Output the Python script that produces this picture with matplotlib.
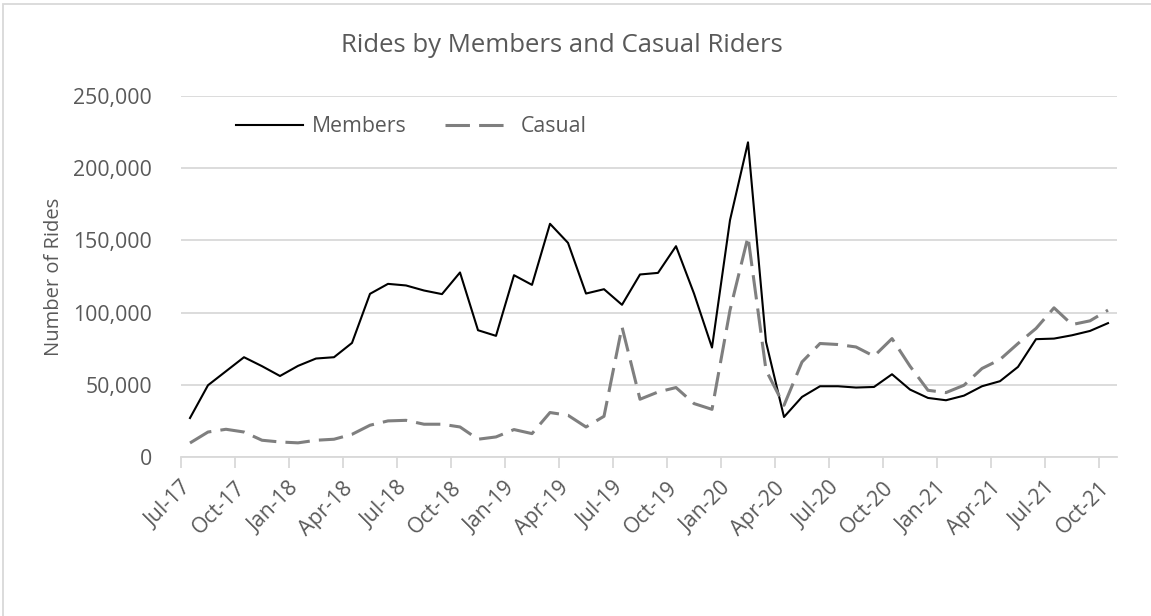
import matplotlib
matplotlib.use("Agg")
import matplotlib.pyplot as plt
import matplotlib.patches as patches
import matplotlib.transforms as mtransforms
from matplotlib.ticker import FuncFormatter, MultipleLocator

plt.rcParams['font.family'] = ['Open Sans', 'DejaVu Sans']

# monthly rides, Jul-17 .. Oct-21
members = [27000, 49700, 59400, 69100, 62900, 56100, 63100, 68200, 69100, 79000,
           113000, 119900, 118800, 115300, 112800, 127800, 87800, 83900, 125900, 119200,
           161500, 148300, 113200, 116200, 105400, 126400, 127500, 146000, 113200, 75800,
           164000, 217900, 79700, 27700, 41600, 49000, 49000, 48100, 48500, 57300,
           46700, 40900, 39300, 42500, 49000, 52500, 62400, 81600, 82000, 84300,
           87300, 92700]
casual = [9700, 17300, 19200, 17300, 11600, 10400, 9800, 11600, 12300, 15700,
          22000, 25000, 25400, 22700, 22700, 20800, 12300, 13900, 19000, 16200,
          30800, 28900, 20800, 28200, 90100, 40000, 45000, 48100, 37000, 33000,
          101700, 152500, 60100, 35800, 65800, 78600, 77900, 76200, 69800, 82000,
          62900, 46200, 44600, 49700, 61300, 67500, 78600, 89000, 103300, 91700,
          94300, 101700]
tick_labels = ['Jul-17', 'Oct-17', 'Jan-18', 'Apr-18', 'Jul-18', 'Oct-18',
               'Jan-19', 'Apr-19', 'Jul-19', 'Oct-19', 'Jan-20', 'Apr-20',
               'Jul-20', 'Oct-20', 'Jan-21', 'Apr-21', 'Jul-21', 'Oct-21']

text_col = '#595959'
grid_col = '#d9d9d9'

fig = plt.figure(figsize=(11.51, 6.16), dpi=100)
ax = fig.add_axes([181 / 1151, 1 - 457 / 616, (1117 - 181) / 1151, (457 - 96) / 616])

x = list(range(len(members)))
ax.plot(x, members, color='black', lw=1.5, label='Members')
ax.plot(x, casual, color='#7f7f7f', lw=2.2, dashes=(8, 3), label='Casual')

ax.set_xlim(-0.5, len(members) - 0.5)
ax.set_ylim(0, 250000)
ax.yaxis.set_major_locator(MultipleLocator(50000))
ax.yaxis.set_major_formatter(FuncFormatter(lambda v, p: f'{int(v):,}'))
ax.grid(axis='y', color=grid_col, lw=1.3)
ax.set_axisbelow(True)

ticks = [-0.5 + 3 * k for k in range(len(tick_labels))]
ax.set_xticks(ticks)
ax.set_xticklabels(tick_labels, rotation=45, ha='right', va='center',
                   rotation_mode='anchor')
ax.tick_params(axis='x', colors=grid_col, labelcolor=text_col, length=8, width=1.3,
               labelsize=15.3, pad=0)
ax.tick_params(axis='y', length=0, labelcolor=text_col, labelsize=15.3, pad=21)

# shift the rotated month labels so their ends sit just right of / below each tick
shift = mtransforms.ScaledTranslation(7 / 100, -17 / 100, fig.dpi_scale_trans)
for lab in ax.get_xticklabels():
    lab.set_transform(lab.get_transform() + shift)

for side in ['top', 'right', 'left']:
    ax.spines[side].set_visible(False)
ax.spines['bottom'].set_color(grid_col)
ax.spines['bottom'].set_linewidth(1.3)

leg = ax.legend(ncol=2, frameon=False, loc='center left',
                bbox_to_anchor=(0.038, 0.915), fontsize=15.3,
                handlelength=3.15, handletextpad=0.42, columnspacing=1.8)
for t in leg.get_texts():
    t.set_color(text_col)

fig.text(562 / 1151, 1 - 45 / 616, 'Rides by Members and Casual Riders',
         ha='center', va='center', fontsize=18.5, color=text_col)
fig.text(54 / 1151, 1 - 277 / 616, 'Number of Rides', rotation=90,
         ha='center', va='center', fontsize=14.5, color=text_col)

fig.patches.append(patches.Rectangle((3 / 1151, -0.1), 1.2, 1.1 - 4 / 616,
                                     transform=fig.transFigure, fill=False,
                                     edgecolor=grid_col, lw=1.3))

fig.savefig('out.png', dpi=100)
